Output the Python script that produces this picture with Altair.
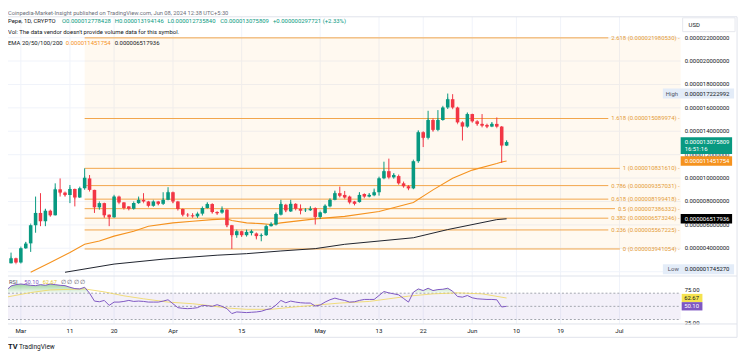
import altair as alt
import pandas as pd

# ---------------- data (prices in millionths of a USD) ----------------
first_candle = "2024-02-27"
day_zero = "2024-03-01"

opens = [2.00, 2.73, 3.15, 2.79, 4.00, 4.42, 5.97, 7.02, 6.31, 7.21,
         6.82, 9.04, 8.76, 8.56, 9.07, 8.34, 9.13, 9.97, 8.99, 7.50,
         7.86, 6.87, 6.65, 8.42, 7.92, 7.58, 7.38, 7.86, 8.14, 8.00,
         7.63, 8.00, 7.80, 8.14, 8.79, 8.00, 7.36, 6.87, 6.82, 6.73,
         6.96, 7.44, 7.78, 7.10, 7.05, 7.30, 5.97, 5.12, 5.46, 5.12,
         5.30, 5.27, 5.04, 5.12, 5.89, 6.03, 6.87, 7.72, 7.15, 7.80,
         7.38, 7.25, 7.25, 7.44, 6.68, 7.02, 7.58, 8.14, 8.71, 8.56,
         8.42, 8.00, 7.95, 8.64, 8.42, 8.53, 8.79, 9.98, 10.59, 10.06,
         10.17, 9.55, 9.30, 9.12, 11.44, 13.92, 13.44, 14.96, 14.12, 14.96,
         16.03, 16.74, 16.03, 14.76, 14.40, 15.47, 14.85, 14.63, 14.54, 14.40,
         14.63, 14.40, 12.778428]
highs = [2.85, 3.63, 3.20, 4.05, 4.53, 6.00, 8.42, 8.71, 7.38, 7.30,
         9.55, 9.97, 8.85, 9.41, 9.10, 9.20, 10.83, 10.26, 9.00, 7.90,
         7.90, 6.90, 8.50, 8.50, 7.95, 7.60, 7.90, 8.42, 8.71, 8.05,
         8.05, 8.05, 8.79, 9.22, 8.85, 8.05, 7.40, 7.00, 7.00, 7.00,
         7.50, 7.90, 7.85, 7.15, 7.58, 7.35, 6.00, 5.50, 5.50, 5.60,
         5.55, 5.35, 5.25, 5.95, 6.20, 7.00, 8.14, 7.80, 8.14, 7.85,
         7.75, 7.40, 7.60, 7.50, 7.10, 7.70, 8.20, 8.93, 9.27, 8.90,
         8.50, 8.05, 8.80, 8.70, 8.70, 9.10, 10.05, 11.40, 11.66, 10.40,
         10.30, 9.70, 9.40, 11.50, 14.06, 14.00, 15.75, 15.10, 15.81, 16.10,
         17.222992, 17.17, 16.10, 14.85, 15.55, 15.50, 14.95, 15.47, 14.65, 14.75,
         15.18, 14.45, 13.194146]
lows = [1.745270, 2.70, 2.75, 2.70, 3.95, 3.69, 5.33, 5.89, 5.89, 6.75,
        6.80, 8.42, 8.45, 7.86, 7.58, 8.30, 9.00, 8.90, 7.02, 7.30,
        6.60, 5.89, 6.60, 7.85, 7.40, 7.30, 7.30, 7.80, 7.95, 7.55,
        7.55, 7.70, 7.70, 8.10, 7.86, 7.30, 6.75, 6.70, 6.65, 6.60,
        6.80, 7.40, 7.00, 6.90, 6.95, 5.80, 3.941054, 4.90, 5.00, 5.00,
        5.10, 4.76, 4.60, 5.05, 5.85, 5.95, 6.80, 7.10, 7.10, 7.30,
        6.90, 7.10, 7.20, 6.03, 6.50, 6.95, 7.50, 8.10, 8.40, 8.30,
        7.85, 7.70, 7.90, 8.35, 8.35, 8.45, 8.50, 9.90, 10.00, 9.95,
        9.50, 9.25, 9.00, 9.05, 11.30, 12.65, 13.30, 14.00, 14.00, 14.90,
        15.90, 15.95, 14.70, 13.21, 14.30, 14.80, 14.50, 14.40, 14.30, 14.35,
        14.35, 11.30, 12.735840]
closes = [2.79, 3.15, 2.79, 4.00, 4.40, 5.97, 7.02, 6.31, 7.21, 6.82,
          9.04, 8.76, 8.56, 9.07, 8.34, 9.13, 10.03, 8.99, 7.50, 7.86,
          6.82, 6.65, 8.42, 7.92, 7.44, 7.38, 7.86, 8.14, 8.00, 7.63,
          8.00, 7.80, 8.14, 8.79, 8.00, 7.36, 6.87, 6.82, 6.73, 6.96,
          7.44, 7.78, 7.10, 7.00, 7.30, 5.97, 5.12, 5.46, 5.12, 5.40,
          5.46, 5.04, 5.12, 5.89, 6.08, 6.93, 7.78, 7.24, 7.80, 7.38,
          7.21, 7.30, 7.38, 6.68, 7.07, 7.63, 8.14, 8.71, 8.49, 8.34,
          7.92, 7.80, 8.56, 8.42, 8.56, 8.79, 9.98, 10.59, 10.06, 10.26,
          9.55, 9.30, 9.12, 11.44, 13.92, 13.44, 14.96, 14.12, 14.96, 16.03,
          16.74, 16.03, 14.76, 14.40, 15.47, 14.85, 14.63, 14.48, 14.40, 14.63,
          14.40, 12.78, 13.075809]
change_abs = 0.297721
change_pct = 2.33

# EMA lines (day offsets from Mar 1, value)
ema_fast_days = [2, 6, 10, 13, 16, 19, 23, 26, 31, 35, 39, 42, 43, 46, 49, 51, 53, 60, 66, 73, 80, 84, 88, 92, 97, 98, 99]
ema_fast_vals = [1.95, 2.79, 3.64, 4.34, 4.62, 5.04, 5.46, 5.89, 6.17, 6.31, 6.45, 6.51, 6.37, 6.17, 6.11, 6.03, 6.17,
                 6.51, 6.73, 7.15, 7.91, 8.99, 9.98, 10.68, 11.25, 11.38, 11.451754]
ema_slow_days = [9, 19, 29, 40, 46, 53, 60, 66, 73, 80, 87, 97, 99]
ema_slow_vals = [1.95, 2.65, 3.07, 3.41, 3.54, 3.77, 3.97, 4.34, 4.62, 4.90, 5.60, 6.45, 6.517936]

# RSI per candle
rsi_vals = [74, 81, 83, 84, 83, 82, 81.5, 83, 82, 84,
            83, 82, 81.5, 79, 77, 76.5, 79, 70, 58, 57,
            59, 51.5, 56.5, 56.5, 57.5, 59, 57.5, 58, 57.5, 56.5,
            56.5, 56.5, 58, 60, 54, 48, 47, 46.5, 47, 48,
            51.5, 51, 50, 52.5, 50, 46.5, 39, 41.5, 41, 40.5,
            41, 41.5, 42.5, 45, 46.5, 52, 59, 55.5, 58, 56.5,
            55.5, 55, 55, 50.5, 52, 56.5, 60, 62.5, 60.5, 59,
            56.5, 57, 59, 60.5, 60.5, 60.5, 66.5, 72.5, 70.5, 69,
            67.5, 62, 56.5, 71.5, 76.5, 74, 77.5, 74, 75.5, 76,
            77.5, 73, 65, 64, 66.5, 63, 61.5, 61, 60.5, 60.5,
            60, 49, 50.10]
rsi_ma_days = [-3, 2, 6, 13, 17, 21, 25, 30, 35, 38, 42, 46, 51, 55, 61, 65, 71, 75, 79, 84, 89, 94, 99]
rsi_ma_vals = [64, 71, 75, 76.5, 72, 66, 61.5, 56.5, 54, 51.5, 47.5, 45.5, 45.5, 48.5, 52.5, 55, 57.5, 61.5,
               65.5, 69, 70.5, 69, 62.67]

fib_ratio_labels = ["0", "0.236", "0.382", "0.5", "0.618", "0.786", "1", "1.618", "2.618"]
fib_prices = [3.941054, 5.567225, 6.573246, 7.386332, 8.199418, 9.357031, 10.831610, 15.089974, 21.980530]
fib_start_day = 13

price_grid = [2, 4, 6, 8, 10, 12, 14, 16, 18, 20, 22]
price_labels = [4, 6, 8, 10, 12, 14, 16, 18, 20, 22]
date_ticks = ["2024-03-01", "2024-03-11", "2024-03-20", "2024-04-01", "2024-04-15", "2024-05-01",
              "2024-05-13", "2024-05-22", "2024-06-01", "2024-06-10", "2024-06-19", "2024-07-01"]
date_labels = ["Mar", "11", "20", "Apr", "15", "May", "13", "22", "Jun", "10", "19", "Jul"]

last_close = 13.075809
ema_fast_last = 11.451754
ema_slow_last = 6.517936
high_mark = 17.222992
low_mark = 1.745270
rsi_last = 50.10
rsi_ma_last = 62.67
countdown = "16:51:16"

# ---------------- styling ----------------
FONT = "Roboto"
TEXT = "#131722"
GREEN = "#089981"
RED = "#F23645"
EMA_FAST = "#F5921E"
EMA_SLOW = "#1E222D"
FIB = "#F2A54A"
FIB_TXT = "#E49B38"
GRID = "#F0F3FA"
BORDER = "#E0E3EB"
RSI_LINE = "#7E57C2"
RSI_MA = "#F0D862"
FS = 6.0

x_scale = alt.Scale(domain=[0, 100], range=[13, 509], nice=False, zero=False, padding=0)
price_scale = alt.Scale(domain=[4, 22], range=[241, 241 - 18 * 11.83], nice=False, zero=False, padding=0)
rsi_scale = alt.Scale(domain=[25, 75], range=[299.7 + 25 * 0.665, 299.7 - 25 * 0.665], nice=False, zero=False,
                      padding=0)

ONE = pd.DataFrame({"k": [0]})


def fmt(v):
    return f"{v * 1e-6:.12f}"


def tw(s, size):
    w = 0.0
    for c in s:
        if c.isdigit():
            w += 0.5615
        elif c in ".":
            w += 0.263
        elif c in ",' ":
            w += 0.248
        elif c == ":":
            w += 0.242
        elif c == "/":
            w += 0.412
        elif c in "()":
            w += 0.342
        elif c == "-":
            w += 0.276
        elif c == "+":
            w += 0.566
        elif c == "%":
            w += 0.732
        elif c.isupper():
            w += 0.66
        elif c in "ijl":
            w += 0.24
        elif c in "ftr":
            w += 0.34
        elif c in "mw":
            w += 0.8
        else:
            w += 0.53
    return w * size


def vtext(text, x, y, color=TEXT, size=FS, align="left", baseline="middle", weight="normal"):
    return alt.Chart(ONE).mark_text(text=text, align=align, baseline=baseline, fontSize=size,
                                    font=FONT, color=color, fontWeight=weight).encode(
        x=alt.value(x), y=alt.value(y))


def vrect(x, x2, y, y2, fill, stroke=None):
    kw = dict(fill=fill)
    if stroke:
        kw.update(stroke=stroke, strokeWidth=1)
    return alt.Chart(ONE).mark_rect(**kw).encode(
        x=alt.value(x), x2=alt.value(x2), y=alt.value(y), y2=alt.value(y2))


def vrule(x, x2, y, y2, color=BORDER, width=1):
    return alt.Chart(ONE).mark_rule(color=color, strokeWidth=width).encode(
        x=alt.value(x), x2=alt.value(x2), y=alt.value(y), y2=alt.value(y2))


def tag(value, scale, text, fill, tcolor, x0, x1, tx, up=5, down=5, shift=0, size=FS):
    d = pd.DataFrame({"p": [value]})
    base = alt.Chart(d).encode(y=alt.Y("p:Q", scale=scale, axis=None))
    r = base.mark_rect(fill=fill, yOffset=-up + shift, y2Offset=down + shift).encode(
        x=alt.value(x0), x2=alt.value(x1), y2="p:Q")
    t = base.mark_text(text=text, align="left", baseline="middle", fontSize=size, font=FONT,
                       color=tcolor, yOffset=shift).encode(x=alt.value(tx))
    return [r, t]


# ---------------- frames ----------------
dates = pd.date_range(first_candle, periods=len(opens), freq="D")
day_of = lambda ds: (pd.to_datetime(ds) - pd.Timestamp(day_zero)).days
candles = pd.DataFrame({"day": (dates - pd.Timestamp(day_zero)).days, "open": opens, "high": highs,
                        "low": lows, "close": closes})
ema_fast = pd.DataFrame({"day": ema_fast_days, "v": ema_fast_vals})
ema_slow = pd.DataFrame({"day": ema_slow_days, "v": ema_slow_vals})
rsi = pd.DataFrame({"day": candles["day"], "r": rsi_vals})
rsi_ma = pd.DataFrame({"day": rsi_ma_days, "r": rsi_ma_vals})
ticks = pd.DataFrame({"day": [day_of(d) for d in date_ticks], "label": date_labels})
pgrid = pd.DataFrame({"p": price_grid})
pticks = pd.DataFrame({"p": price_labels, "label": [fmt(v) for v in price_labels]})
fibs = pd.DataFrame({"p": fib_prices,
                     "label": [f"{l} ({fmt(v)}) -" for l, v in zip(fib_ratio_labels, fib_prices)]})

X = alt.X("day:Q", scale=x_scale, axis=None)
PY = lambda f: alt.Y(f, scale=price_scale, axis=None)
RY = lambda f: alt.Y(f, scale=rsi_scale, axis=None)

# vertical grid
vgrid = alt.Chart(ticks).mark_rule(color=GRID, strokeWidth=1).encode(x=X, y=alt.value(7), y2=alt.value(317.5))

# ---------------- price pane ----------------
price_layers = []
price_layers.append(alt.Chart(pgrid).mark_rule(color=GRID).encode(y=PY("p:Q"), x=alt.value(0), x2=alt.value(680)))
fib_box = pd.DataFrame({"day": [fib_start_day], "top": [max(fib_prices)], "bot": [min(fib_prices)]})
price_layers.append(alt.Chart(fib_box).mark_rect(fill="#FF9800", opacity=0.06).encode(
    x=X, x2=alt.value(680), y=PY("top:Q"), y2="bot:Q"))
FIB_RIGHT = 679
for _, row in fibs.iterrows():
    end_px = FIB_RIGHT - tw(row["label"], FS) - 3
    d = pd.DataFrame({"day": [fib_start_day], "p": [row["p"]]})
    price_layers.append(alt.Chart(d).mark_rule(color=FIB, strokeWidth=1).encode(
        x=X, x2=alt.value(end_px), y=PY("p:Q")))
price_layers.append(alt.Chart(fibs).mark_text(align="right", baseline="middle", fontSize=FS, font=FONT,
                                              color=FIB_TXT).encode(x=alt.value(FIB_RIGHT), y=PY("p:Q"),
                                                                    text="label:N"))
price_layers.append(alt.Chart(ema_slow).mark_line(color=EMA_SLOW, strokeWidth=1).encode(x=X, y=PY("v:Q")))
price_layers.append(alt.Chart(ema_fast).mark_line(color=EMA_FAST, strokeWidth=1.1).encode(x=X, y=PY("v:Q")))

ccolor = alt.when(alt.datum.close >= alt.datum.open).then(alt.value(GREEN)).otherwise(alt.value(RED))
cbase = alt.Chart(candles).encode(x=X)
price_layers.append(cbase.mark_rule(strokeWidth=1).encode(y=PY("low:Q"), y2="high:Q", color=ccolor))
price_layers.append(cbase.mark_bar(size=3.6).encode(y=PY("open:Q"), y2="close:Q", color=ccolor))
price_layers.append(cbase.mark_tick(size=3.6, thickness=1).encode(y=PY("close:Q"), color=ccolor))

price_layers.append(alt.Chart(pticks).mark_text(align="left", baseline="middle", fontSize=FS, font=FONT,
                                                color=TEXT).encode(x=alt.value(684), y=PY("p:Q"), text="label:N"))
# tags
price_layers += tag(high_mark, price_scale, fmt(high_mark), "#E3ECF8", TEXT, 662, 734, 684)
price_layers.append(alt.Chart(pd.DataFrame({"p": [high_mark]})).mark_text(
    text="High", align="left", baseline="middle", fontSize=FS, font=FONT, color="#50535E").encode(
    x=alt.value(665), y=PY("p:Q")))
price_layers += tag(low_mark, price_scale, fmt(low_mark), "#E3ECF8", TEXT, 662, 734, 684, shift=-5.5)
price_layers.append(alt.Chart(pd.DataFrame({"p": [low_mark]})).mark_text(
    text="Low", align="left", baseline="middle", fontSize=FS, font=FONT, color="#50535E", yOffset=-5.5).encode(
    x=alt.value(667), y=PY("p:Q")))
price_layers += tag(last_close, price_scale, fmt(last_close), GREEN, "white", 680, 732, 684, up=5, down=12)
price_layers.append(alt.Chart(pd.DataFrame({"p": [last_close]})).mark_text(
    text=countdown, align="left", baseline="middle", fontSize=FS, font=FONT, color="white", yOffset=6.8).encode(
    x=alt.value(684), y=PY("p:Q")))
price_layers += tag(ema_fast_last, price_scale, fmt(ema_fast_last), EMA_FAST, "white", 680, 732, 684, up=4.8, down=4.8)
price_layers += tag(ema_slow_last, price_scale, fmt(ema_slow_last), "#000000", "white", 680, 732, 684, up=4.8, down=4.8)

price_group = alt.layer(*price_layers)

# ---------------- RSI pane ----------------
rsi_layers = []
band = pd.DataFrame({"a": [70], "b": [30]})
rsi_layers.append(alt.Chart(band).mark_rect(fill=RSI_LINE, opacity=0.09).encode(
    x=alt.value(0), x2=alt.value(680), y=RY("a:Q"), y2="b:Q"))
for lvl in [70, 50, 30]:
    rsi_layers.append(alt.Chart(pd.DataFrame({"r": [lvl]})).mark_rule(
        color="#A3A6AF", strokeWidth=1, strokeDash=[2, 2]).encode(y=RY("r:Q"), x=alt.value(0), x2=alt.value(680)))
grad = alt.Gradient(gradient="linear",
                    stops=[alt.GradientStop(color="rgba(76,175,80,0.55)", offset=0),
                           alt.GradientStop(color="rgba(76,175,80,0.04)", offset=1)],
                    x1=0, x2=0, y1=0, y2=1)
rsi_layers.append(alt.Chart(rsi).transform_calculate(rc="max(datum.r, 70)").mark_area(color=grad).encode(
    x=X, y=RY("rc:Q"), y2=alt.Y2(datum=70)))
rsi_layers.append(alt.Chart(rsi_ma).mark_line(color=RSI_MA, strokeWidth=1, opacity=0.85).encode(x=X, y=RY("r:Q")))
rsi_layers.append(alt.Chart(rsi).mark_line(color=RSI_LINE, strokeWidth=1).encode(x=X, y=RY("r:Q")))
rsi_axis = pd.DataFrame({"r": [75, 25], "label": ["75.00", "25.00"]})
rsi_layers.append(alt.Chart(rsi_axis).mark_text(align="left", baseline="middle", fontSize=FS, font=FONT,
                                                color=TEXT).encode(x=alt.value(684), y=RY("r:Q"), text="label:N"))
rsi_layers += tag(rsi_ma_last, rsi_scale, f"{rsi_ma_last:.2f}", "#F5E34F", TEXT, 681, 702, 683.5, up=4.2, down=4.2)
rsi_layers += tag(rsi_last, rsi_scale, f"{rsi_last:.2f}", RSI_LINE, "white", 681, 702, 683.5, up=4.2, down=4.2)
rsi_group = alt.layer(*rsi_layers)

# ---------------- overlays ----------------
over = []
over.append(vrect(0, 742, 318, 331, "white"))
over.append(alt.Chart(ticks).mark_text(align="center", baseline="middle", fontSize=6.2, font=FONT,
                                       color=TEXT).encode(x=X, y=alt.value(324.5), text="label:N"))
over.append(vrule(0, 737, 7, 7))
over.append(vrule(0, 737, 269, 269))
over.append(vrule(0, 737, 317.5, 317.5))
over.append(vrule(0, 737, 331, 331))
over.append(vrule(737, 737, 7, 331))
over.append(vrect(682, 735, 8, 22, "white", stroke="#E6E8EE"))
over.append(vtext("USD", 688, 15))

# header lines
over.append(vtext("Coinpedia-Market-Insight published on TradingView.com, Jun 08, 2024 12:38 UTC+5:30", 0, 3,
                  color="#6A6D78", size=5.8))
segs = [("Pepe, 1D, CRYPTO", TEXT), ("O" + fmt(opens[-1]), GREEN), ("H" + fmt(highs[-1]), GREEN),
        ("L" + fmt(lows[-1]), GREEN), ("C" + fmt(closes[-1]), GREEN),
        (f"+{fmt(change_abs)} (+{change_pct:.2f}%)", GREEN)]
xpos = 0.0
for s, c in segs:
    over.append(vtext(s, xpos, 11, color=c))
    xpos += tw(s, FS) + 4
over.append(vtext("Vol: The data vendor doesn't provide volume data for this symbol.", 0, 22))
segs = [("EMA 20/50/100/200", TEXT), (fmt(ema_fast_last), EMA_FAST), (fmt(ema_slow_last), TEXT)]
xpos = 0.0
for s, c in segs:
    over.append(vtext(s, xpos, 33, color=c))
    xpos += tw(s, FS) + 4

# RSI legend
RS = 5.8
segs = [("RSI", "#50535E"), (f"{rsi_last:.2f}", RSI_LINE), (f"{rsi_ma_last:.2f}", "#E6C92E"), ("∅ ∅ ∅ ∅", "#50535E")]
xpos = 1.0
for s, c in segs:
    over.append(vtext(s, xpos, 275, color=c, size=RS))
    xpos += tw(s, RS) + 4

# TradingView logo
over.append(vtext("TV", 0, 341, size=7.5, weight="bold"))
over.append(vtext("TradingView", 11, 341, size=6.6))

chart = alt.layer(vgrid, price_group, rsi_group, *over).resolve_scale(y="independent").properties(
    width=742, height=350, padding=0, autosize=alt.AutoSizeParams(type="none"),
    background="white").configure_view(stroke=None)

chart.save("out.html", embed_options={"renderer": "svg", "actions": False})
